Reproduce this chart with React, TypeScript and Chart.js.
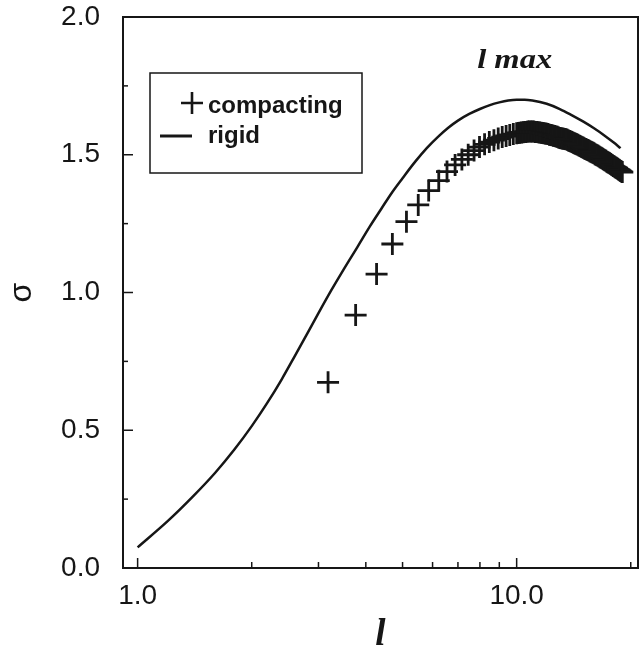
import React, { useEffect, useRef } from "react";
import { Chart, registerables } from "chart.js";

Chart.register(...registerables);

// ---- data ----
const rigidX = [1.0, 1.2, 1.4, 1.6, 1.8, 2.0, 2.2, 2.4, 2.6, 2.8, 3.0, 3.25, 3.5, 3.8, 4.1, 4.4, 4.7, 5.0, 5.4, 5.8, 6.2, 6.6, 7.0, 7.5, 8.0, 8.5, 9.0, 9.5, 10.0, 10.5, 11.0, 12.0, 13.0, 14.0, 15.0, 16.0, 17.0, 18.0, 18.8];
const rigidY = [0.075, 0.17, 0.26, 0.345, 0.43, 0.515, 0.6, 0.685, 0.77, 0.85, 0.925, 1.01, 1.085, 1.165, 1.24, 1.305, 1.365, 1.415, 1.475, 1.525, 1.565, 1.598, 1.624, 1.648, 1.666, 1.68, 1.69, 1.697, 1.7, 1.7, 1.697, 1.685, 1.666, 1.643, 1.62, 1.596, 1.571, 1.545, 1.524];

const compactX = [
  3.18, 3.76, 4.27, 4.7, 5.12, 5.5, 5.86, 6.23, 6.55, 6.88, 7.17, 7.45, 7.72, 7.98, 8.23, 8.47, 8.71, 8.94, 9.16, 9.38, 9.59, 9.8,
  10.0, 10.1, 10.2, 10.3, 10.4, 10.5, 10.6, 10.7, 10.8, 10.9, 11.0, 11.1, 11.2, 11.3, 11.4, 11.5, 11.6, 11.7, 11.8, 11.9,
  12.0, 12.1, 12.2, 12.3, 12.4, 12.5, 12.6, 12.7, 12.8, 12.9, 13.0, 13.1, 13.2, 13.3, 13.4, 13.5, 13.6, 13.7, 13.8, 13.9,
  14.0, 14.1, 14.2, 14.3, 14.4, 14.5, 14.6, 14.7, 14.8, 14.9, 15.0, 15.1, 15.2, 15.3, 15.4, 15.5, 15.6, 15.7, 15.8, 15.9,
  16.0, 16.1, 16.2, 16.3, 16.4, 16.5, 16.6, 16.7, 16.8, 16.9, 17.0, 17.1, 17.2, 17.3, 17.4, 17.5, 17.6, 17.7, 17.8, 17.9,
  18.0, 18.1, 18.2, 18.3, 18.4, 18.5, 18.6, 18.7, 18.8, 18.9, 19.0,
];
const compactY = [
  0.674, 0.918, 1.067, 1.176, 1.257, 1.318, 1.37, 1.406, 1.439, 1.463, 1.483, 1.5, 1.515, 1.528, 1.538, 1.546, 1.553, 1.559, 1.564, 1.568, 1.572, 1.575,
  1.578, 1.579, 1.58, 1.581, 1.582, 1.583, 1.583, 1.584, 1.584, 1.584, 1.584, 1.584, 1.583, 1.583, 1.582, 1.581, 1.58, 1.579, 1.578, 1.577,
  1.576, 1.575, 1.573, 1.572, 1.571, 1.569, 1.568, 1.566, 1.565, 1.563, 1.561, 1.56, 1.559, 1.558, 1.557, 1.556, 1.554, 1.552, 1.55, 1.548,
  1.546, 1.544, 1.542, 1.54, 1.538, 1.536, 1.534, 1.532, 1.529, 1.527, 1.525, 1.523, 1.521, 1.519, 1.517, 1.515, 1.513, 1.511, 1.509, 1.507,
  1.505, 1.502, 1.5, 1.498, 1.496, 1.494, 1.491, 1.489, 1.487, 1.485, 1.482, 1.48, 1.478, 1.475, 1.473, 1.471, 1.469, 1.466, 1.464, 1.462,
  1.459, 1.457, 1.455, 1.453, 1.451, 1.448, 1.446, 1.444, 1.441, 1.439, 1.437,
];

const xTickValues = [1, 2, 3, 4, 5, 6, 7, 8, 9, 10, 20];
const xLabeledTicks = [1, 10];
const yTickValues = [0, 0.25, 0.5, 0.75, 1, 1.25, 1.5, 1.75, 2];
const yLabeledTicks = [0, 0.5, 1, 1.5, 2];
const legendLabels = ["compacting", "rigid"];
const annotationText = "l max";
const xTitle = "l";
const yTitle = "σ";

const INK = "#161616";

const decorPlugin = {
  id: "decor",
  afterDraw(chart: any) {
    const { ctx, chartArea } = chart;
    const xs = chart.scales.x;
    const ys = chart.scales.y;
    ctx.save();
    ctx.strokeStyle = INK;
    ctx.fillStyle = INK;
    ctx.lineWidth = 2;
    ctx.strokeRect(chartArea.left, chartArea.top, chartArea.right - chartArea.left, chartArea.bottom - chartArea.top);
    ctx.lineWidth = 1.5;
    xTickValues.forEach((v) => {
      const px = xs.getPixelForValue(v);
      const len = xLabeledTicks.includes(v) ? 10 : 6;
      ctx.beginPath();
      ctx.moveTo(px, chartArea.bottom);
      ctx.lineTo(px, chartArea.bottom - len);
      ctx.stroke();
    });
    yTickValues.forEach((v) => {
      const py = ys.getPixelForValue(v);
      const len = yLabeledTicks.includes(v) ? 10 : 5;
      ctx.beginPath();
      ctx.moveTo(chartArea.left, py);
      ctx.lineTo(chartArea.left + len, py);
      ctx.stroke();
    });
    // legend
    const lx = chartArea.left + 27;
    const ly = chartArea.top + 56;
    ctx.lineWidth = 1.5;
    ctx.strokeRect(lx, ly, 212, 100);
    ctx.lineWidth = 2.6;
    ctx.beginPath();
    ctx.moveTo(lx + 31, ly + 30);
    ctx.lineTo(lx + 53, ly + 30);
    ctx.moveTo(lx + 42, ly + 19);
    ctx.lineTo(lx + 42, ly + 41);
    ctx.stroke();
    ctx.lineWidth = 3;
    ctx.beginPath();
    ctx.moveTo(lx + 10, ly + 63);
    ctx.lineTo(lx + 42, ly + 63);
    ctx.stroke();
    ctx.font = "bold 24px 'Liberation Sans', Arial, sans-serif";
    ctx.textAlign = "left";
    ctx.textBaseline = "alphabetic";
    ctx.fillText(legendLabels[0], lx + 58, ly + 40);
    ctx.fillText(legendLabels[1], lx + 58, ly + 70);
    // annotation
    ctx.font = "bold italic 27px 'Liberation Serif', 'Times New Roman', serif";
    const w = ctx.measureText(annotationText).width;
    const target = 75;
    const cx = xs.getPixelForValue(10.0) - 2;
    ctx.translate(cx, chartArea.top + 51);
    ctx.scale(target / w, 1);
    ctx.textAlign = "center";
    ctx.fillText(annotationText, 0, 0);
    ctx.restore();
  },
};

export default function App() {
  const ref = useRef<HTMLCanvasElement | null>(null);
  useEffect(() => {
    if (!ref.current) return;
    const chart = new Chart(ref.current, {
      type: "scatter",
      data: {
        datasets: [
          {
            label: legendLabels[1],
            data: rigidX.map((x, i) => ({ x, y: rigidY[i] })),
            showLine: true,
            borderColor: INK,
            borderWidth: 2.5,
            pointRadius: 0,
            cubicInterpolationMode: "monotone",
          },
          {
            label: legendLabels[0],
            data: compactX.map((x, i) => ({ x, y: compactY[i] })),
            showLine: false,
            pointStyle: "cross",
            pointRadius: 11,
            pointBorderWidth: 2.8,
            borderColor: INK,
            backgroundColor: INK,
          },
        ],
      },
      options: {
        responsive: false,
        animation: false,
        devicePixelRatio: 1,
        layout: { autoPadding: false, padding: { left: 0, top: 17, right: 1, bottom: 0 } },
        plugins: { legend: { display: false }, tooltip: { enabled: false } },
        scales: {
          x: {
            type: "logarithmic",
            min: 0.915,
            max: 20.9,
            grid: { display: false, drawTicks: false },
            border: { display: false },
            afterBuildTicks: (scale: any) => {
              scale.ticks = xTickValues.map((v) => ({ value: v }));
            },
            afterFit: (scale: any) => {
              scale.height = 88;
              scale.paddingLeft = 0;
              scale.paddingRight = 0;
              scale.paddingTop = 0;
              scale.paddingBottom = 0;
            },
            ticks: {
              autoSkip: false,
              maxRotation: 0,
              minRotation: 0,
              padding: 11,
              color: INK,
              font: { family: "'Liberation Sans', Arial, sans-serif", size: 28 },
              callback: (v: any) => (xLabeledTicks.includes(Number(v)) ? Number(v).toFixed(1) : ""),
            },
            title: {
              display: true,
              text: xTitle,
              color: INK,
              font: { family: "'Liberation Serif', 'Times New Roman', serif", size: 37, style: "italic", weight: "bold", lineHeight: 1 },
              padding: { top: 0, bottom: 2 },
            },
          },
          y: {
            type: "linear",
            min: 0,
            max: 2,
            grid: { display: false, drawTicks: false },
            border: { display: false },
            afterBuildTicks: (scale: any) => {
              scale.ticks = yTickValues.map((v) => ({ value: v }));
            },
            afterFit: (scale: any) => {
              scale.width = 123;
              scale.paddingLeft = 0;
              scale.paddingRight = 0;
              scale.paddingTop = 0;
              scale.paddingBottom = 0;
            },
            ticks: {
              autoSkip: false,
              padding: 23,
              color: INK,
              font: { family: "'Liberation Sans', Arial, sans-serif", size: 28 },
              callback: (v: any) => (yLabeledTicks.includes(Number(v)) ? Number(v).toFixed(1) : ""),
            },
            title: {
              display: true,
              text: yTitle,
              color: INK,
              font: { family: "'Liberation Sans', Arial, sans-serif", size: 32, lineHeight: 1 },
              padding: { top: 6, bottom: 0 },
            },
          },
        },
      },
      plugins: [decorPlugin],
    } as any);
    return () => chart.destroy();
  }, []);
  return (
    <div style={{ position: "absolute", left: 0, top: 0, width: 639, height: 656, background: "#fff" }}>
      <canvas ref={ref} width={639} height={656} style={{ width: 639, height: 656, display: "block" }} />
    </div>
  );
}
